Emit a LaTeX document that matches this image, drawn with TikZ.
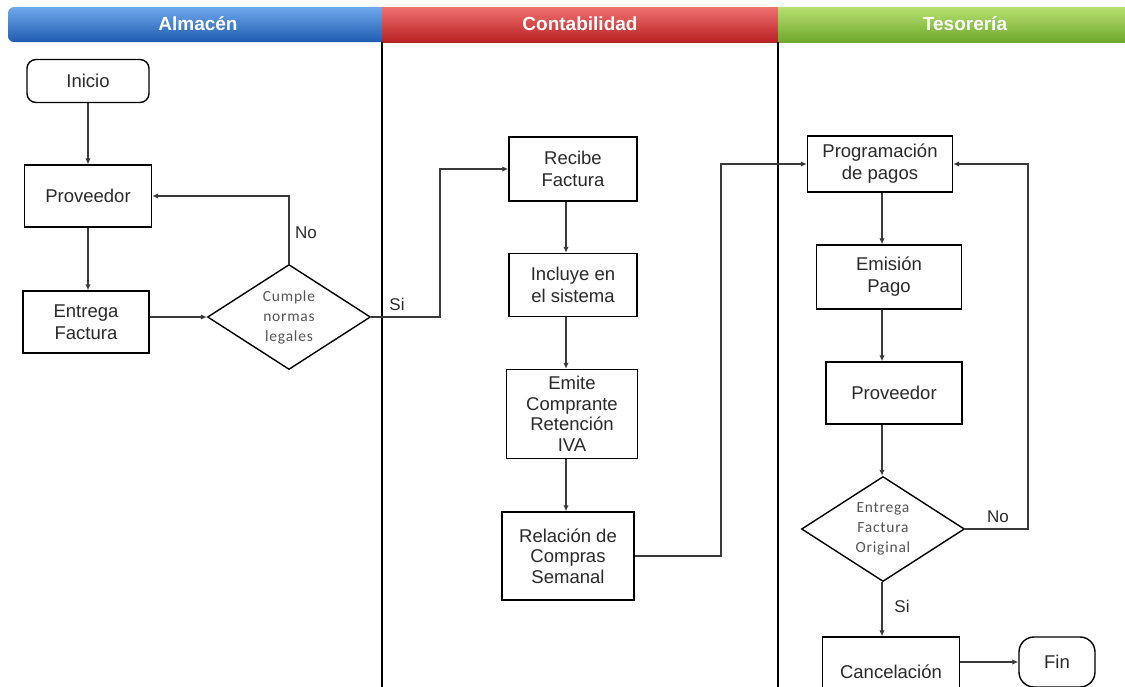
\documentclass[tikz,border=0pt]{standalone}
\usepackage{fontspec}
\setmainfont{Liberation Sans}
\newfontfamily\dfont[LetterSpace=5]{Carlito}
\usetikzlibrary{shapes.geometric,arrows.meta,calc}
\definecolor{bluetop}{HTML}{6FA8EC}
\definecolor{bluebot}{HTML}{1E5BB0}
\definecolor{redtop}{HTML}{F07070}
\definecolor{redbot}{HTML}{B82222}
\definecolor{greentop}{HTML}{B6E070}
\definecolor{greenbot}{HTML}{6FA82C}
\definecolor{txt}{HTML}{2A2A2A}
\definecolor{dtxt}{HTML}{555555}
\definecolor{conn}{HTML}{3A3A3A}
\begin{document}
\begin{tikzpicture}[x=1pt,y=-1pt,
  boxnode/.style={draw=black,line width=1.4pt,fill=white,align=center,inner sep=0pt,
    text=txt,font=\fontsize{18.5}{22}\selectfont},
  termnode/.style={boxnode,rounded corners=9pt},
  decnode/.style={draw=black,line width=1.4pt,fill=white,diamond,aspect=1.55,align=center,
    inner sep=0pt,text=dtxt,font=\dfont\fontsize{15.5}{20}\selectfont,
    minimum width=163pt,minimum height=105pt},
  arr/.style={draw=conn,line width=1.4pt,-{Latex[length=6pt,width=5.5pt]}},
  lbl/.style={text=txt,font=\fontsize{17}{20}\selectfont,inner sep=0pt},
  hdr/.style={text=white,font=\bfseries\fontsize{19}{22}\selectfont,inner sep=0pt},
  lane/.style={draw=black,line width=1.3pt}]
\useasboundingbox (0,0) rectangle (1125,686);
\clip (0,0) rectangle (1125,686);
% header bars
\shade[top color=bluetop,bottom color=bluebot,rounded corners=6pt] (8,7) rectangle (392,42);
\shade[top color=redtop,bottom color=redbot] (382,7) rectangle (778,42);
\shade[top color=greentop,bottom color=greenbot] (778,7) rectangle (1135,42);
\node[hdr] (halm) at (198,24) {Almacén};
\node[hdr] (hcon) at (580,24) {Contabilidad};
\node[hdr] (htes) at (965,24) {Tesorería};
% lane separators
\coordinate (l1t) at (382,42); \coordinate (l1b) at (382,690);
\coordinate (l2t) at (778,42); \coordinate (l2b) at (778,690);
\draw[lane] (l1t) -- (l1b);
\draw[lane] (l2t) -- (l2b);
% Almacen
\node[termnode,minimum width=122pt,minimum height=43pt] (inicio) at (88,81) {Inicio};
\node[boxnode,minimum width=127pt,minimum height=62pt] (prov1) at (88,196) {Proveedor};
\node[boxnode,minimum width=126pt,minimum height=62pt] (entrega) at (86,322) {Entrega\\Factura};
\node[decnode] (cumple) at (289,317) {Cumple\\normas\\legales};
% Contabilidad
\node[boxnode,minimum width=128pt,minimum height=64pt] (recibe) at (573,169) {Recibe\\Factura};
\node[boxnode,minimum width=128pt,minimum height=63pt] (incluye) at (573,285) {Incluye en\\el sistema};
\node[boxnode,minimum width=131pt,minimum height=89pt,font=\fontsize{18.5}{20.5}\selectfont] (emite) at (572,414) {Emite\\Comprante\\Retención\\IVA};
\node[boxnode,minimum width=132pt,minimum height=88pt,font=\fontsize{18.5}{20.5}\selectfont] (relacion) at (568,556) {Relación de\\Compras\\Semanal};
% Tesoreria
\node[boxnode,minimum width=145pt,minimum height=56pt] (prog) at (880,164) {Programación\\de pagos};
\node[boxnode,minimum width=145pt,minimum height=64pt] (emision) at (889,277) {Emisión\\Pago};
\node[boxnode,minimum width=136pt,minimum height=62pt] (prov2) at (894,393) {Proveedor};
\node[decnode] (orig) at (883,529) {Entrega\\Factura\\Original};
\node[boxnode,minimum width=137pt,minimum height=70pt,text depth=0pt] (cancel) at (891,672) {Cancelación};
\node[termnode,minimum width=76pt,minimum height=50pt,rounded corners=15pt] (fin) at (1057,662) {Fin};
% helper columns
\coordinate (ax) at (88,0);
\coordinate (cx) at (566,0);
\coordinate (tx) at (882,0);
\coordinate (sx) at (440,0);
\coordinate (rx) at (721,0);
\coordinate (ex) at (1028,0);
% connectors Almacen
\draw[arr] (inicio.south) -- (prov1.north);
\draw[arr] (prov1.south -| ax) -- (entrega.north -| ax);
\draw[arr] (entrega.east |- cumple.west) -- (cumple.west);
\draw[arr] (cumple.north) |- (prov1.east);
\node[lbl] (no1) at (306,233) {No};
\draw[arr] (cumple.east) -- (cumple.east -| sx) -- (sx |- recibe.west) -- (recibe.west);
\node[lbl] (si1) at (397,304) {Si};
% Contabilidad
\draw[arr] (recibe.south -| cx) -- (incluye.north -| cx);
\draw[arr] (incluye.south -| cx) -- (emite.north -| cx);
\draw[arr] (emite.south -| cx) -- (relacion.north -| cx);
\draw[arr] (relacion.east) -- (relacion.east -| rx) -- (rx |- prog.west) -- (prog.west);
% Tesoreria
\draw[arr] (prog.south -| tx) -- (emision.north -| tx);
\draw[arr] (emision.south -| tx) -- (prov2.north -| tx);
\draw[arr] (prov2.south -| tx) -- (orig.north -| tx);
\draw[arr] (orig.east) -- (orig.east -| ex) -- (ex |- prog.east) -- (prog.east);
\node[lbl] (no2) at (998,517) {No};
\draw[arr] (orig.south -| tx) -- (cancel.north -| tx);
\node[lbl] (si2) at (902,606) {Si};
\draw[arr] (cancel.east |- fin.west) -- (fin.west);
\end{tikzpicture}
\end{document}
